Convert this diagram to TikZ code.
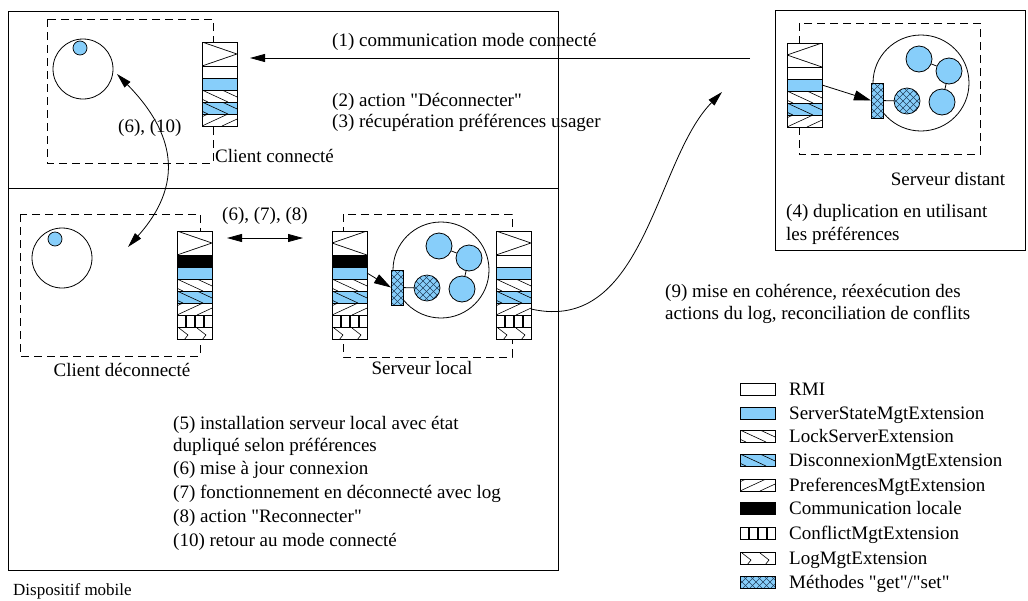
\documentclass[tikz,border=0pt]{standalone}
\usepackage{fontspec}
\setmainfont{Liberation Serif}[Ligatures=TeXOff]
\usetikzlibrary{arrows.meta}
\definecolor{ltblue}{RGB}{135,206,250}
\definecolor{hatchblue}{RGB}{35,65,95}

\tikzset{
  line/.style={line width=0.8pt},
  dashbox/.style={draw, line width=0.8pt, dash pattern=on 8pt off 5pt},
  tx/.style={font=\fontsize{19}{23}\selectfont, inner sep=0pt, anchor=base west},
  txc/.style={tx, anchor=base},
  tipA/.style={-{Triangle[length=15pt,width=8pt]}},
  tipAA/.style={{Triangle[length=15pt,width=8pt]}-{Triangle[length=15pt,width=8pt]}},
  tipB/.style={-{Triangle[length=17pt,width=10pt]}},
  cell/.style={draw, line width=0.7pt, fill=white, minimum width=35pt, minimum height=12pt,
               inner sep=0pt, outer sep=0pt, anchor=north west},
  kRmi/.style={},
  kComm/.style={fill=black},
  kState/.style={fill=ltblue},
  kLock/.style={path picture={
      \foreach \d in {-20,0,20}{\draw[line width=0.6pt]
        ([xshift=\d pt]path picture bounding box.north west) -- ++(26pt,-12pt);}}},
  kDisc/.style={fill=ltblue, kLock},
  kPref/.style={path picture={
      \foreach \d in {-20,0,20}{\draw[line width=0.6pt]
        ([xshift=\d pt]path picture bounding box.south west) -- ++(26pt,12pt);}}},
  kConf/.style={path picture={
      \foreach \d in {9,18,27}{\draw[line width=1.8pt]
        ([xshift=\d pt]path picture bounding box.south west) -- ++(0pt,12pt);}}},
  kLog/.style={path picture={
      \foreach \d in {2,20}{\draw[line width=0.6pt]
        ([xshift=\d pt,yshift=-1pt]path picture bounding box.north west)
          -- ++(9pt,-7pt) -- ++(-4pt,-5pt);}}},
  kTriR/.style={minimum height=24pt, path picture={
      \draw[line width=0.7pt] (path picture bounding box.north west)
        -- (path picture bounding box.east) -- (path picture bounding box.south west);}},
  kTriL/.style={minimum height=24pt, path picture={
      \draw[line width=0.7pt] (path picture bounding box.north east)
        -- (path picture bounding box.west) -- (path picture bounding box.south east);}},
  kMeth/.style={fill=ltblue, path picture={
      \foreach \d in {-60,-53,...,60}{
        \draw[hatchblue, line width=0.45pt]
          ([xshift=\d pt]path picture bounding box.south west) -- ++(60pt,60pt);
        \draw[hatchblue, line width=0.45pt]
          ([xshift=\d pt]path picture bounding box.north west) -- ++(60pt,-60pt);}}},
  meth/.style={draw, line width=0.7pt, inner sep=0pt, outer sep=0pt, kMeth},
  ballout/.style={circle, draw, line width=0.8pt, fill=white, minimum size=96pt, inner sep=0pt},
  ball/.style={circle, draw, line width=0.8pt, fill=ltblue, minimum size=26pt, inner sep=0pt},
  client/.style={circle, draw, line width=0.8pt, fill=white, minimum size=60pt, inner sep=0pt},
  dot/.style={circle, draw, line width=0.7pt, fill=ltblue, minimum size=14pt, inner sep=0pt},
}

% a column of extension cells, stacked from the top
\newcommand{\cellstack}[4]{%
  \foreach \kind [count=\i] in {#4}{%
    \pgfmathtruncatemacro{\j}{\i-1}%
    \ifnum\i=1
      \node[cell,\kind] (#1-\i) at (#2,#3) {};
    \else
      \node[cell,\kind] (#1-\i) at (#1-\j.south west) {};
    \fi}}

% a server: outer circle holding the state objects
\newcommand{\serverball}[3]{%
  \node[ballout] (#1) at (#2,#3) {};
  \node[ball] (#1-a) at (#2-2,#3-24) {};
  \node[ball] (#1-b) at (#2+28,#3-12) {};
  \node[ball] (#1-c) at (#2+21,#3+19) {};
  \node[meth, circle, minimum size=26pt] (#1-m) at (#2-14,#3+18) {};
  \node[meth, minimum width=12pt, minimum height=35pt] (#1-h) at (#2-44,#3+17.5) {};
  \draw[line] (#1-a) -- (#1-b);
  \draw[line] (#1-b) -- (#1-c);
  \draw[line] (#1-h) -- (#1-m);}

\begin{document}
\begin{tikzpicture}[x=1pt,y=-1pt]
\useasboundingbox (0,0) rectangle (1028,600);

% mobile device frame and distant host frame
\draw[line] (8,11) rectangle (558,570);
\draw[line] (8,188) -- (558,188);
\draw[line] (775,10) rectangle (1025,250);
\node[tx, font=\fontsize{17}{20}\selectfont] (dev) at (13,595) {Dispositif mobile};

% component boundaries
\draw[dashbox] (47,19) rectangle (213,163);
\draw[dashbox] (20,214) rectangle (200,356);
\draw[dashbox] (343,214) rectangle (512,357);
\draw[dashbox] (799,23) rectangle (980,154);

% connected client
\node[client] (ccc) at (83,69) {};
\node[dot] (ccd) at (80,48) {};
\cellstack{cc}{202}{42}{kTriR,kRmi,kState,kLock,kDisc,kPref}
\node[tx] (lcc) at (215,162) {Client connecté};

% disconnected client
\node[client] (cdc) at (62,258) {};
\node[dot] (cdd) at (55,239) {};
\cellstack{cd}{177}{231}{kTriR,kComm,kState,kLock,kDisc,kPref,kConf,kLog}
\node[txc] (lcd) at (122,376) {Client déconnecté};

% local server
\serverball{sl}{441}{270}
\cellstack{sll}{332}{231}{kTriL,kComm,kState,kLock,kDisc,kPref,kConf,kLog}
\cellstack{slr}{496}{231}{kTriR,kRmi,kState,kLock,kDisc,kPref,kConf,kLog}
\node[txc] (lsl) at (422,374) {Serveur local};
\draw[line, tipB] (sll-3.east) -- (sl-h.west);

% distant server
\serverball{sd}{921}{83}
\cellstack{sd}{787}{43}{kTriL,kRmi,kState,kLock,kDisc,kPref}
\node[txc] (lsd) at (948,185) {Serveur distant};
\draw[line, tipB] (sd-3.east) -- (sd-h.west);
\node[tx] (n4a) at (786,217) {(4) duplication en utilisant};
\node[tx] (n4b) at (786,240) {les préférences};

% connected-mode communication
\coordinate (a1) at (750,58);
\draw[line, tipA] (a1) -- ([xshift=13pt,yshift=-4pt]cc-1.east);
\node[tx] (n1) at (332,46) {(1) communication mode connecté};
\node[tx] (n2) at (332,106) {(2) action "Déconnecter"};
\node[tx] (n3) at (332,127) {(3) récupération préférences usager};

% switching between connected and disconnected client
\coordinate (t610a) at (117,74);
\coordinate (t610b) at (128,247);
\draw[line, tipAA] (t610b) .. controls (190,178) and (168,126) .. (t610a);
\node[tx] (n610) at (118,132) {(6), (10)};

% disconnected client to local server
\draw[line, tipAA] ([xshift=15pt,yshift=5pt]cd-1.east) -- ([xshift=-29pt,yshift=5pt]sll-1.west);
\node[tx] (n678) at (222,220) {(6), (7), (8)};

% reconciliation with the distant server
\coordinate (t9) at (722,92);
\draw[line, tipA] (slr-6.east) .. controls (645,335) and (655,160) .. (t9);
\node[tx] (n9a) at (665,297) {(9) mise en cohérence, réexécution des};
\node[tx] (n9b) at (665,319) {actions du log, reconciliation de conflits};

% steps on the mobile device
\node[tx] (n5a) at (173,429) {(5) installation serveur local avec état};
\node[tx] (n5b) at (173,451) {dupliqué selon préférences};
\node[tx] (n6)  at (173,474) {(6) mise à jour connexion};
\node[tx] (n7)  at (173,498) {(7) fonctionnement en déconnecté avec log};
\node[tx] (n8)  at (173,522) {(8) action "Reconnecter"};
\node[tx] (n10) at (173,546) {(10) retour au mode connecté};

% legend
\node[cell,kRmi]   (lg1) at (740,383) {};
\node[cell,kState] (lg2) at (740,407) {};
\node[cell,kLock]  (lg3) at (740,430) {};
\node[cell,kDisc]  (lg4) at (740,454) {};
\node[cell,kPref]  (lg5) at (740,479) {};
\node[cell,kComm]  (lg6) at (740,502) {};
\node[cell,kConf]  (lg7) at (740,527) {};
\node[cell,kLog]   (lg8) at (740,552) {};
\node[cell,kMeth]  (lg9) at (740,576) {};
\node[tx] (lt1) at (789,395) {RMI};
\node[tx] (lt2) at (789,419) {ServerStateMgtExtension};
\node[tx] (lt3) at (789,442) {LockServerExtension};
\node[tx] (lt4) at (789,466) {DisconnexionMgtExtension};
\node[tx] (lt5) at (789,491) {PreferencesMgtExtension};
\node[tx] (lt6) at (789,514) {Communication locale};
\node[tx] (lt7) at (789,539) {ConflictMgtExtension};
\node[tx] (lt8) at (789,564) {LogMgtExtension};
\node[tx] (lt9) at (789,588) {Méthodes "get"/"set"};
\end{tikzpicture}
\end{document}
